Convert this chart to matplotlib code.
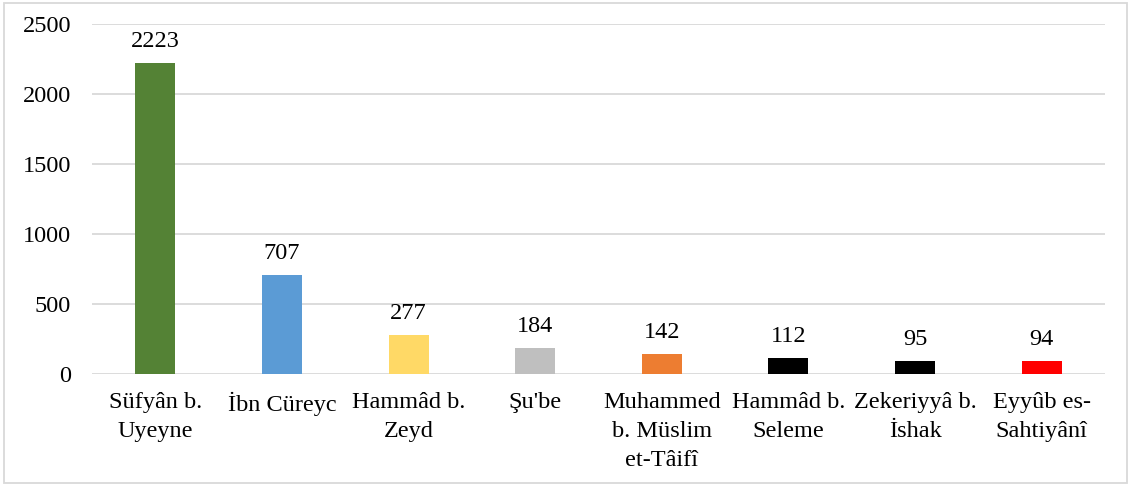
import matplotlib
matplotlib.use("Agg")
import matplotlib.pyplot as plt
from matplotlib.patches import Rectangle

categories = ["Süfyân b.\nUyeyne", "İbn Cüreyc", "Hammâd b.\nZeyd", "Şu'be",
              "Muhammed\nb. Müslim\net-Tâifî", "Hammâd b.\nSeleme", "Zekeriyyâ b.\nİshak",
              "Eyyûb es-\nSahtiyânî"]
values = [2223, 707, 277, 184, 142, 112, 95, 94]
colors = ["#548235", "#5B9BD5", "#FFD966", "#BFBFBF", "#ED7D31", "#000000", "#000000", "#FF0000"]
yticks = [0, 500, 1000, 1500, 2000, 2500]

plt.rcParams['font.family'] = ['Liberation Serif', 'DejaVu Serif']
W, H = 1132, 486
FS = 17.5
fig = plt.figure(figsize=(W/100, H/100), dpi=100)
ax = fig.add_axes([92/W, 1-374/H, (1105-92)/W, (374-24)/H])

x = range(len(categories))
ax.bar(x, values, width=0.316, color=colors, zorder=3)
for xi, v in zip(x, values):
    ax.annotate(str(v), (xi, v), xytext=(0, 8), textcoords='offset points',
                ha='center', va='bottom', fontsize=FS)

ax.set_xlim(-0.5, len(categories)-0.5)
ax.set_ylim(0, 2500)
ax.set_yticks(yticks)
ax.set_yticklabels([str(t) for t in yticks], fontsize=FS)
ax.set_xticks(list(x))
ax.set_xticklabels(categories, fontsize=FS, linespacing=1.5)
ax.tick_params(axis='both', length=0)
ax.tick_params(axis='y', pad=15)
ax.tick_params(axis='x', pad=13)
ax.grid(axis='y', color='#D9D9D9', linewidth=1.3, zorder=0)
for s in ax.spines.values():
    s.set_visible(False)

fig.patches.append(Rectangle((4/W, 3/H), (1127-4)/W, (483-3)/H, transform=fig.transFigure,
                             fill=False, edgecolor='#D9D9D9', linewidth=1.3))

fig.savefig("out.png", dpi=100)
